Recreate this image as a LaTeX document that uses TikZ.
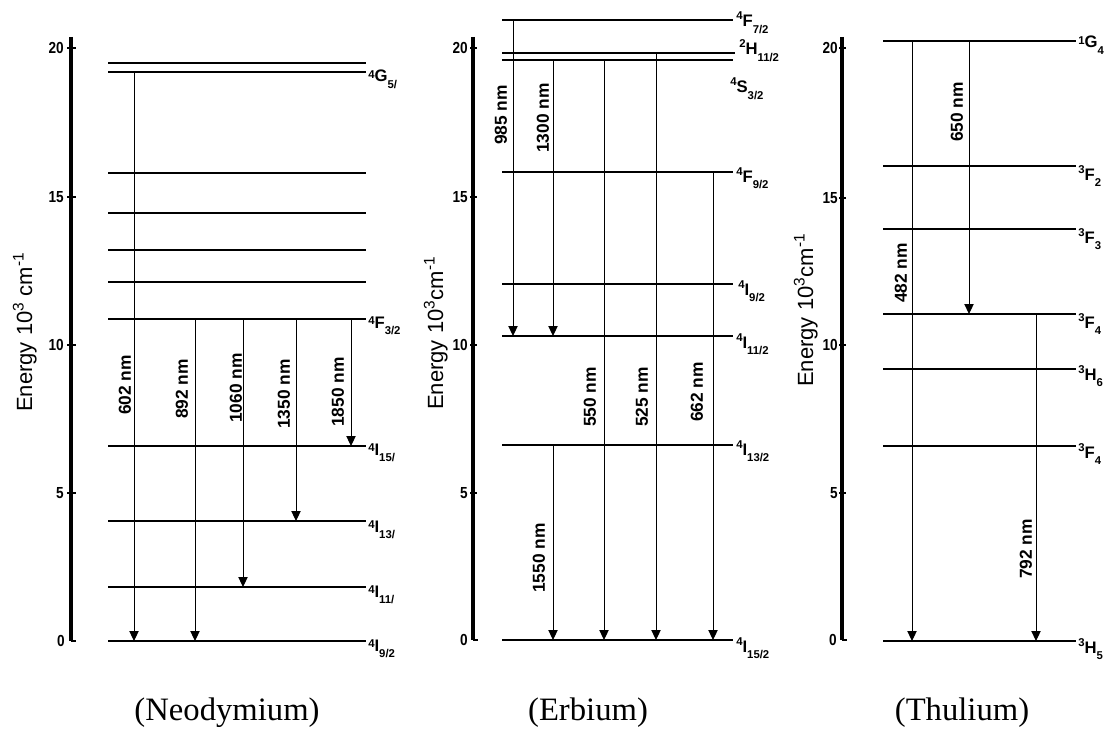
\documentclass[tikz,border=0pt]{standalone}
\usepackage{fontspec}
\setmainfont{Liberation Serif}
\setsansfont{Liberation Sans}
\newfontfamily\narrowsans[FakeStretch=0.85]{Liberation Sans}
\usetikzlibrary{arrows.meta}
\newcommand{\levup}[1]{\raisebox{0.42em}{\fontsize{8.5}{8.5}\selectfont #1}}
\newcommand{\levlow}[1]{\raisebox{0.2em}{\fontsize{8.5}{8.5}\selectfont #1}}
\newcommand{\levdn}[1]{\raisebox{-0.38em}{\fontsize{8.5}{8.5}\selectfont #1}}
\begin{document}
\begin{tikzpicture}[x=0.75pt,y=-0.75pt,
  axisline/.style={line width=2.6pt},
  tickmark/.style={line width=1.5pt},
  levelline/.style={line width=0.95pt},
  trans/.style={line width=0.75pt,-{Triangle[length=7.5pt,width=7pt]}},
  wl/.style={rotate=90,inner sep=0pt,font=\sffamily\bfseries\fontsize{13}{13}\selectfont},
  lab/.style={anchor=base west,inner sep=0pt,font=\sffamily\bfseries\fontsize{12.5}{12.5}\selectfont},
  ticklab/.style={anchor=east,inner sep=0pt,font=\narrowsans\bfseries\fontsize{12}{12}\selectfont},
  elab/.style={rotate=90,anchor=base west,inner sep=0pt,font=\sffamily\fontsize{16.5}{16.5}\selectfont},
  captext/.style={anchor=base,inner sep=0pt,font=\rmfamily\fontsize{24.5}{24.5}\selectfont}]
\useasboundingbox (0,0) rectangle (1112,731);

% ================= Neodymium =================
\draw[axisline] (71,37) -- (71,641);
\foreach \v/\yy in {20/48,15/197,10/345,5/493}{
  \draw[tickmark] (67,\yy) -- (76,\yy);
  \node[ticklab] at (64,\yy) {\v};
}
\draw[tickmark] (71,641) -- (76,641);
\node[ticklab] at (65,641) {0};
\node[elab] (ndE) at (32,412) {Energy 10\textsuperscript{3} cm\textsuperscript{-1}};

\foreach \yy in {63,72,173,213,250,282,319,446,521,587,641}{
  \draw[levelline] (108,\yy) -- (366,\yy);
}
\coordinate (nd1s) at (134,72);  \coordinate (nd1e) at (134,641);
\coordinate (nd2s) at (195,319); \coordinate (nd2e) at (195,641);
\coordinate (nd3s) at (243,319); \coordinate (nd3e) at (243,587);
\coordinate (nd4s) at (296,319); \coordinate (nd4e) at (296,521);
\coordinate (nd5s) at (351,319); \coordinate (nd5e) at (351,446);
\draw[trans] (nd1s) -- (nd1e);
\draw[trans] (nd2s) -- (nd2e);
\draw[trans] (nd3s) -- (nd3e);
\draw[trans] (nd4s) -- (nd4e);
\draw[trans] (nd5s) -- (nd5e);
\node[wl] (w602) at (125,385) {602 nm};
\node[wl] (w892) at (182,389) {892 nm};
\node[wl] (w1060) at (236,388) {1060 nm};
\node[wl] (w1350) at (284,394) {1350 nm};
\node[wl] (w1850) at (338,392) {1850 nm};

\node[lab] (ndG) at (368,82) {\levlow{4}G\levdn{5/}};
\node[lab] (ndF) at (368,328) {\levlow{4}F\levdn{3/2}};
\node[lab] (ndI15) at (368,455) {\levlow{4}I\levdn{15/}};
\node[lab] (ndI13) at (368,532) {\levlow{4}I\levdn{13/}};
\node[lab] (ndI11) at (368,597) {\levlow{4}I\levdn{11/}};
\node[lab] (ndI9) at (368,651) {\levlow{4}I\levdn{9/2}};

% ================= Erbium =================
\draw[axisline] (473,37) -- (473,640);
\foreach \v/\yy in {20/48,15/197,10/345,5/493}{
  \draw[tickmark] (470,\yy) -- (477,\yy);
  \node[ticklab] at (468,\yy) {\v};
}
\draw[tickmark] (473,640) -- (478,640);
\node[ticklab] at (468,640) {0};
\node[elab] (erE) at (443,410) {Energy 10\textsuperscript{3}cm\textsuperscript{-1}};

\foreach \yy in {20,60,172,284,336,445,640}{
  \draw[levelline] (502,\yy) -- (733,\yy);
}
\draw[levelline] (502,53) -- (735,53);

\coordinate (er1s) at (513,20);  \coordinate (er1e) at (513,336);
\coordinate (er2s) at (553,60);  \coordinate (er2e) at (553,336);
\coordinate (er3s) at (604,60);  \coordinate (er3e) at (604,640);
\coordinate (er4s) at (656,53);  \coordinate (er4e) at (656,640);
\coordinate (er5s) at (713,172); \coordinate (er5e) at (713,640);
\coordinate (er6s) at (553,445); \coordinate (er6e) at (553,640);
\draw[trans] (er1s) -- (er1e);
\draw[trans] (er2s) -- (er2e);
\draw[trans] (er3s) -- (er3e);
\draw[trans] (er4s) -- (er4e);
\draw[trans] (er5s) -- (er5e);
\draw[trans] (er6s) -- (er6e);
\node[wl] (w985) at (501,115) {985 nm};
\node[wl] (w1300) at (543,118) {1300 nm};
\node[wl] (w550) at (590,397) {550 nm};
\node[wl] (w525) at (642,397) {525 nm};
\node[wl] (w662) at (697,392) {662 nm};
\node[wl] (w1550) at (539,558) {1550 nm};

\node[lab] (erF7) at (736,27) {\levup{4}F\levdn{7/2}};
\node[lab] (erH11) at (739,55) {\levup{2}H\levdn{11/2}};
\node[lab] (erS3) at (730,93) {\levup{4}S\levdn{3/2}};
\node[lab] (erF9) at (736,182) {\levup{4}F\levdn{9/2}};
\node[lab] (erI9) at (738,295) {\levup{4}I\levdn{9/2}};
\node[lab] (erI11) at (736,348) {\levup{4}I\levdn{11/2}};
\node[lab] (erI13) at (736,455) {\levup{4}I\levdn{13/2}};
\node[lab] (erI15) at (736,652) {\levup{4}I\levdn{15/2}};

% ================= Thulium =================
\draw[axisline] (842,37) -- (842,640);
\foreach \v/\yy in {20/48,15/198,10/345,5/493}{
  \draw[tickmark] (839,\yy) -- (846,\yy);
  \node[ticklab] at (838,\yy) {\v};
}
\draw[tickmark] (842,640) -- (847,640);
\node[ticklab] at (837,640) {0};
\node[elab] (tmE) at (813,387) {Energy 10\textsuperscript{3}cm\textsuperscript{-1}};

\foreach \yy in {41,166,314,369,446,641}{
  \draw[levelline] (883,\yy) -- (1076,\yy);
}
\draw[line width=1.5pt] (883,229) -- (1076,229);

\coordinate (tm1s) at (912,41);   \coordinate (tm1e) at (912,641);
\coordinate (tm2s) at (969,41);   \coordinate (tm2e) at (969,314);
\coordinate (tm3s) at (1036,314); \coordinate (tm3e) at (1036,641);
\draw[trans] (tm1s) -- (tm1e);
\draw[trans] (tm2s) -- (tm2e);
\draw[trans] (tm3s) -- (tm3e);
\node[wl] (w650) at (957,112) {650 nm};
\node[wl] (w482) at (901,273) {482 nm};
\node[wl] (w792) at (1026,549) {792 nm};

\node[lab] (tmG4) at (1078,48) {\levlow{1}G\levdn{4}};
\node[lab] (tmF2) at (1078,180) {\levup{3}F\levdn{2}};
\node[lab] (tmF3) at (1078,243) {\levup{3}F\levdn{3}};
\node[lab] (tmF4a) at (1078,328) {\levup{3}F\levdn{4}};
\node[lab] (tmH6) at (1078,380) {\levup{3}H\levdn{6}};
\node[lab] (tmF4b) at (1078,458) {\levup{3}F\levdn{4}};
\node[lab] (tmH5) at (1078,653) {\levup{3}H\levdn{5}};

% ================= Captions =================
\node[captext] (capNd) at (227,720) {(Neodymium)};
\node[captext] (capEr) at (588,720) {(Erbium)};
\node[captext] (capTm) at (962,720) {(Thulium)};
\end{tikzpicture}
\end{document}
